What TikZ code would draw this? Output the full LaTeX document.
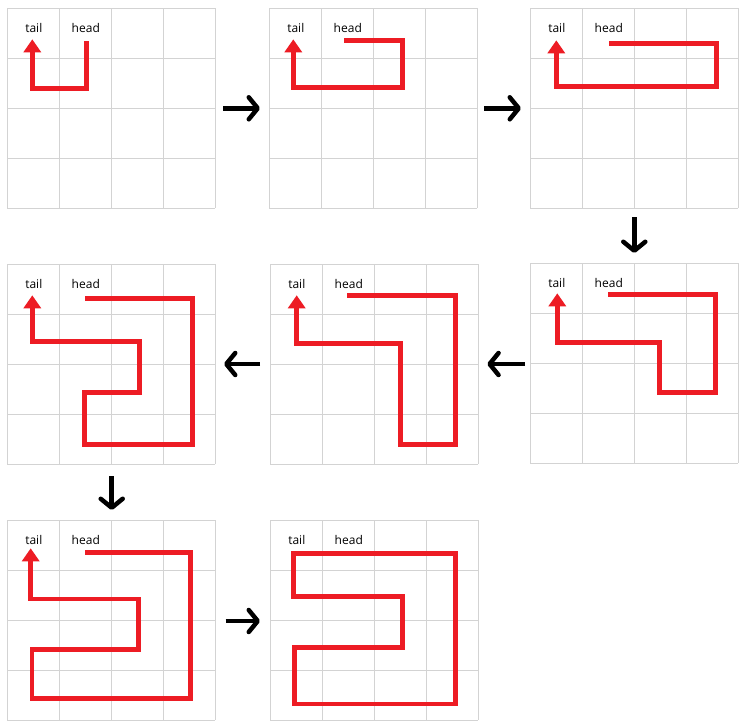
\documentclass[tikz,border=0pt]{standalone}
\usepackage{fontspec}
\setmainfont{Open Sans}
\usetikzlibrary{arrows.meta}
\definecolor{snakered}{RGB}{237,28,36}
\definecolor{gridgray}{RGB}{211,211,211}
\tikzset{
  gridline/.style={draw=gridgray, line width=1pt},
  snake/.style={draw=snakered, line width=4.5pt, line join=miter},
  snakearrow/.style={snake, -{Triangle[length=13pt,width=17pt]}},
  flow/.style={draw=black, line width=4.5pt, -{Straight Barb[length=9pt,width=22pt,round]}},
  lbl/.style={font=\fontsize{12}{14}\selectfont, anchor=base, inner sep=0pt},
}
\newcommand\gridpanel[3]{%
  \begin{scope}[shift={(#1,#2)}]
    \foreach \i in {0,52,104,156,208} \draw[gridline] (\i,0) -- (\i,200);
    \foreach \j in {0,50,100,150,200} \draw[gridline] (0,\j) -- (208,\j);
    \node[lbl] (tail#3) at (26.5,24) {tail};
    \node[lbl] (head#3) at (78.5,24) {head};
  \end{scope}}
\begin{document}
\begin{tikzpicture}[x=1pt,y=-1pt]
\useasboundingbox[fill=white] (0,0) rectangle (747,728);
\gridpanel{7.3}{8.3}{1}
\gridpanel{269.3}{8.3}{2}
\gridpanel{530.3}{8.3}{3}
\gridpanel{7.3}{264.3}{4}
\gridpanel{270.3}{264.3}{5}
\gridpanel{530.3}{263.3}{6}
\gridpanel{7.3}{520}{7}
\gridpanel{270.3}{520.3}{8}
% panel 1
\begin{scope}[shift={(7.3,8.3)}]
\draw[snakearrow] (79,32.7) -- (79,80) -- (25,80) -- (25,31);
\end{scope}
% panel 2
\begin{scope}[shift={(269.3,8.3)}]
\draw[snakearrow] (74.7,32.4) -- (133,32.4) -- (133,79) -- (24,79) -- (24,31);
\end{scope}
% panel 3
\begin{scope}[shift={(530.3,8.3)}]
\draw[snakearrow] (79,35) -- (186,35) -- (186,78) -- (26,78) -- (26,32);
\end{scope}
% panel 4
\begin{scope}[shift={(7.3,264.3)}]
\draw[snakearrow] (78,34) -- (185,34) -- (185,180) -- (77,180) -- (77,128) -- (132,128) -- (132,77) -- (25,77) -- (25,31);
\end{scope}
% panel 5
\begin{scope}[shift={(270.3,264.3)}]
\draw[snakearrow] (77,31) -- (185,31) -- (185,180) -- (130,180) -- (130,79) -- (26.4,79) -- (26.4,31);
\end{scope}
% panel 6
\begin{scope}[shift={(530.3,263.3)}]
\draw[snakearrow] (78,31) -- (185,31) -- (185,129) -- (129,129) -- (129,79) -- (27,79) -- (27,30);
\end{scope}
% panel 7
\begin{scope}[shift={(7.3,520)}]
\draw[snakearrow] (78,32.3) -- (183,32.3) -- (183,178.3) -- (24.7,178.3) -- (24.7,129.3) -- (131,129.3) -- (131,79) -- (23.4,79) -- (23.4,28.3);
\end{scope}
% panel 8
\begin{scope}[shift={(270.3,520.3)}]
\draw[snake] (23.4,33.4) -- (185,33.4) -- (185,183.7) -- (24,183.7) -- (24,127) -- (132,127) -- (132,76) -- (23.4,76) -- cycle;
\end{scope}
% flow arrows
\coordinate (a12s) at (223,108.3); \coordinate (a12e) at (260,108.3);
\coordinate (a23s) at (484,108.3); \coordinate (a23e) at (521,108.3);
\coordinate (a36s) at (634.3,217); \coordinate (a36e) at (634.3,253);
\coordinate (a65s) at (525,364); \coordinate (a65e) at (487.3,364);
\coordinate (a54s) at (260,364); \coordinate (a54e) at (224,364);
\coordinate (a47s) at (111.7,476); \coordinate (a47e) at (111.7,510);
\coordinate (a78s) at (225.7,621); \coordinate (a78e) at (260,621);
\draw[flow] (a12s) -- (a12e);
\draw[flow] (a23s) -- (a23e);
\draw[flow] (a36s) -- (a36e);
\draw[flow] (a65s) -- (a65e);
\draw[flow] (a54s) -- (a54e);
\draw[flow] (a47s) -- (a47e);
\draw[flow] (a78s) -- (a78e);
\end{tikzpicture}
\end{document}
